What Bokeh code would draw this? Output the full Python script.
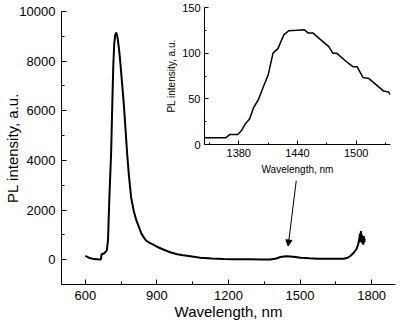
from bokeh.plotting import figure
from bokeh.models import Range1d, FixedTicker, Arrow, NormalHead
from bokeh.layouts import column
from bokeh.embed import file_html
from bokeh.resources import INLINE

# ---- main spectrum ----
wavelength = [600, 615, 630, 650, 665, 668, 680, 690, 695, 701, 708, 713, 717, 721, 725,
              729, 733, 737, 742, 747, 754, 761, 768, 775, 782, 792, 803, 815, 824, 835,
              848, 856, 870, 887, 905, 929, 955, 985, 1010, 1040, 1082, 1130, 1180, 1222,
              1280, 1340, 1376, 1400, 1418, 1440, 1460, 1480, 1502, 1540, 1572, 1620, 1683,
              1700, 1711, 1725, 1736, 1743, 1748, 1751, 1753, 1755, 1757, 1759, 1761, 1763,
              1765, 1767, 1769, 1771]
intensity = [150, 80, 40, 20, 10, 220, 260, 380, 800, 2600, 4300, 6300, 7800, 8700, 9050,
             9150, 9050, 8800, 8400, 7900, 7100, 6300, 5300, 4300, 3450, 2500, 1950, 1550, 1330, 1050,
             850, 760, 680, 600, 500, 400, 300, 220, 180, 140, 80, 50, 30, 20,
             15, 10, 10, 50, 110, 140, 130, 110, 80, 55, 40, 35, 40,
             80, 150, 280, 420, 600, 800, 1050, 700, 1150, 800, 1000, 650, 900,
             600, 950, 700, 850]

x_major = [600, 900, 1200, 1500, 1800]
x_minor = [750, 1050, 1350, 1650]
y_major = [0, 2000, 4000, 6000, 8000, 10000]
y_minor = [-1000, 1000, 3000, 5000, 7000, 9000]

# ---- inset spectrum ----
ins_wavelength = [1345, 1367, 1371, 1379, 1383, 1387, 1391, 1395, 1400, 1405, 1410, 1415,
                  1420, 1426, 1431, 1439, 1447, 1451, 1456, 1463, 1472, 1476, 1480, 1490,
                  1497, 1501, 1507, 1513, 1528, 1533, 1535]
ins_intensity = [7.5, 7.5, 11, 11, 15.7, 23, 28, 40, 49, 63, 76, 100,
                 105, 120, 124.6, 125, 125.7, 122, 122, 115.4, 107.2, 100, 100, 90.6,
                 85, 85, 73.3, 72.2, 58.5, 57.4, 54.5]
ins_x_major = [1380, 1440, 1500]
ins_x_minor = [1350, 1410, 1470, 1530]
ins_y_major = [0, 50, 100, 150]
ins_y_minor = [25, 75, 125]

FONT = "Liberation Sans"


def style_axes(fig, tick_font, label_font, major_in, minor_in, lab_standoff, ax_standoff):
    for ax in fig.xaxis + fig.yaxis:
        ax.major_tick_in = major_in
        ax.major_tick_out = 0
        ax.minor_tick_in = minor_in
        ax.minor_tick_out = 0
        ax.major_label_text_font = FONT
        ax.major_label_text_font_size = tick_font
        ax.major_label_text_color = "black"
        ax.axis_label_text_font = FONT
        ax.axis_label_text_font_size = label_font
        ax.axis_label_text_font_style = "normal"
        ax.axis_label_text_color = "black"
        ax.axis_line_color = "black"
        ax.major_tick_line_color = "black"
        ax.minor_tick_line_color = "black"
        ax.major_label_standoff = lab_standoff
        ax.axis_label_standoff = ax_standoff


main = figure(width=400, height=324, output_backend="svg", toolbar_location=None,
              x_range=Range1d(500, 1900), y_range=Range1d(-1000, 10000),
              min_border_left=61, min_border_right=5, min_border_top=11, min_border_bottom=40)
main.outline_line_color = None
main.grid.visible = False
main.xaxis.axis_label = "Wavelength, nm"
main.yaxis.axis_label = "PL intensity, a.u."
main.xaxis.ticker = FixedTicker(ticks=x_major, minor_ticks=x_minor)
main.yaxis.ticker = FixedTicker(ticks=y_major, minor_ticks=y_minor)
style_axes(main, "13px", "15px", 5, 3, 6, -5)
main.xaxis.axis_label_standoff = 0
main.line(wavelength, intensity, line_color="black", line_width=2)
main.add_layout(Arrow(end=NormalHead(size=6, fill_color="black", line_color="black"),
                      x_start=1484, y_start=3180, x_end=1450, y_end=550,
                      line_color="black", line_width=1))

inset = figure(width=252, height=180, output_backend="svg", toolbar_location=None,
               x_range=Range1d(1345, 1535), y_range=Range1d(0, 150),
               min_border_left=61, min_border_right=5, min_border_top=7, min_border_bottom=36,
               styles={"position": "absolute", "left": "143px", "top": "0px"})
inset.outline_line_color = None
inset.grid.visible = False
inset.background_fill_alpha = 0
inset.border_fill_alpha = 0
inset.xaxis.axis_label = "Wavelength, nm"
inset.yaxis.axis_label = "PL intensity, a.u."
inset.xaxis.ticker = FixedTicker(ticks=ins_x_major, minor_ticks=ins_x_minor)
inset.yaxis.ticker = FixedTicker(ticks=ins_y_major, minor_ticks=ins_y_minor)
style_axes(inset, "11px", "10px", 4, 2, 4, 2)
inset.xaxis.axis_label_standoff = 4
inset.line(ins_wavelength, ins_intensity, line_color="black", line_width=1.5)

root = column(main, inset, width=400, height=324, styles={"position": "relative"})
open("out.html", "w").write(file_html(root, INLINE))
